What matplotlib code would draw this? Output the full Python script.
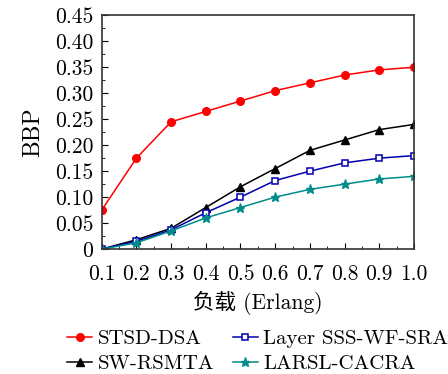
import numpy as np
import matplotlib
matplotlib.use("Agg")
import matplotlib.pyplot as plt
from matplotlib.ticker import MultipleLocator, FuncFormatter

plt.rcParams["font.family"] = ["cmr10", "Noto Sans CJK SC"]
plt.rcParams["axes.unicode_minus"] = False

# data
load = [0.1, 0.2, 0.3, 0.4, 0.5, 0.6, 0.7, 0.8, 0.9, 1.0]
stsd_dsa = [0.075, 0.175, 0.245, 0.265, 0.285, 0.305, 0.32, 0.335, 0.345, 0.35]
sw_rsmta = [0.0, 0.018, 0.04, 0.08, 0.12, 0.155, 0.19, 0.21, 0.23, 0.24]
layer_sss = [0.0, 0.015, 0.037, 0.07, 0.10, 0.132, 0.15, 0.166, 0.175, 0.18]
larsl_cacra = [0.0, 0.012, 0.035, 0.06, 0.08, 0.10, 0.115, 0.125, 0.135, 0.14]

fig = plt.figure(figsize=(4.48, 3.74), dpi=100)
ax = fig.add_axes([0.227, 0.334, 0.697, 0.625])

ax.plot(load, stsd_dsa, color="red", marker="o", markersize=5.5, lw=1.1, label="STSD-DSA")
ax.plot(load, sw_rsmta, color="black", marker="^", markersize=5.5, lw=1.1, label="SW-RSMTA")
ax.plot(load, layer_sss, color="#0000b0", marker="s", markersize=4.5, mfc="white",
        mew=1.1, lw=1.1, label="Layer SSS-WF-SRA")
ax.plot(load, larsl_cacra, color="#008b8b", marker="*", markersize=6.5, lw=1.1, label="LARSL-CACRA")

ax.set_xlim(0.1, 1.0)
ax.set_ylim(0, 0.45)
ax.xaxis.set_major_locator(MultipleLocator(0.1))
ax.xaxis.set_minor_locator(MultipleLocator(0.05))
ax.yaxis.set_major_locator(MultipleLocator(0.05))
ax.yaxis.set_minor_locator(MultipleLocator(0.025))
ax.xaxis.set_major_formatter(FuncFormatter(lambda v, p: "%.1f" % v))
ax.yaxis.set_major_formatter(FuncFormatter(lambda v, p: "0" if abs(v) < 1e-9 else "%.2f" % v))
ax.tick_params(which="both", direction="in", top=False, right=False, labelsize=15.5)
ax.tick_params(which="major", length=4)
ax.tick_params(which="minor", length=2)
ax.tick_params(axis="x", pad=11)
ax.tick_params(axis="y", pad=6)
for s in ax.spines.values():
    s.set_linewidth(1.2)
    s.set_color("#333333")

ax.set_ylabel("BBP", fontsize=17, labelpad=8)
ax.set_xlabel("负载 (Erlang)", fontsize=15.5, labelpad=5)

ax.legend(loc="upper center", bbox_to_anchor=(0.5, -0.31), ncol=2, frameon=False,
          fontsize=15, handlelength=1.2, handletextpad=0.25, columnspacing=0.9,
          labelspacing=0.3, borderaxespad=0)

fig.savefig("out.png", dpi=100)
